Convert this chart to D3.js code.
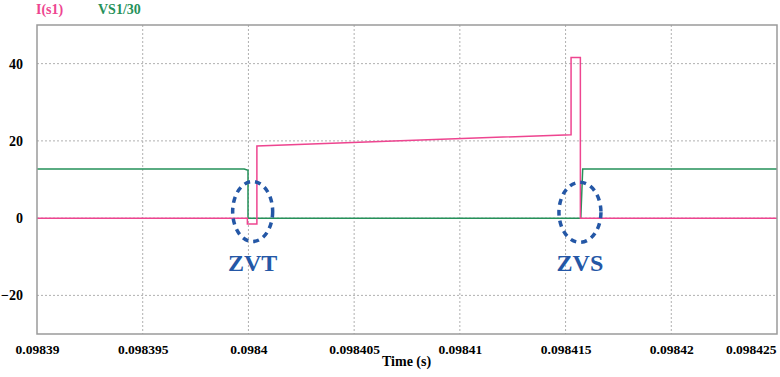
<!DOCTYPE html>
<html>
<head>
<meta charset="utf-8">
<script src="https://cdn.jsdelivr.net/npm/d3@7"></script>
<style>
  html, body { margin: 0; padding: 0; background: #fff; }
  svg { display: block; }
  text { font-family: "Liberation Serif", "Times New Roman", serif; font-weight: bold; }
</style>
</head>
<body>
<svg id="chart" width="780" height="377"></svg>
<script>
// Switch current I(s1) over time (s)
const currentTime = [0.09839, 0.09839995, 0.09839995, 0.0984004, 0.0984004, 0.09841526, 0.09841526, 0.0984157, 0.0984157, 0.098425];
const currentValue = [0, 0, -1.5, -1.5, 18.7, 21.6, 41.6, 41.6, 0, 0];

// Switch voltage scaled down by 30 (VS1/30)
const voltageTime = [0.09839, 0.0983998, 0.09839998, 0.09839998, 0.09841572, 0.09841581, 0.098425];
const voltageValue = [12.7, 12.7, 12.4, 0, 0, 12.7, 12.7];

// Axis ticks
const xTicks = [0.09839, 0.098395, 0.0984, 0.098405, 0.09841, 0.098415, 0.09842, 0.098425];
const xTickLabels = ["0.09839", "0.098395", "0.0984", "0.098405", "0.09841", "0.098415", "0.09842", "0.098425"];
const yTicks = [-20, 0, 20, 40];

// Soft-switching annotations: [label, centre time, centre value]
const markers = [["ZVT", 0.0984002, 1.7], ["ZVS", 0.09841568, 1.5]];

const seriesNames = ["I(s1)", "VS1/30"];
const pink = "#ee4590", green = "#25915a", blue = "#2457a6";

const svg = d3.select("#chart");
const plot = { left: 37, right: 777, top: 25, bottom: 334 };

const x = d3.scaleLinear().domain([0.09839, 0.098425]).range([plot.left, plot.right]);
const y = d3.scaleLinear().domain([-30, 50]).range([plot.bottom, plot.top]);

// Dotted grid
const grid = svg.append("g");
grid.selectAll("line.vx").data(xTicks.slice(1, -1)).join("line")
  .attr("x1", d => x(d)).attr("x2", d => x(d))
  .attr("y1", plot.top).attr("y2", plot.bottom)
  .attr("stroke", "#b0b0b0").attr("stroke-width", 1).attr("stroke-dasharray", "2,2");
grid.selectAll("line.hy").data(yTicks).join("line")
  .attr("x1", plot.left).attr("x2", plot.right)
  .attr("y1", d => y(d)).attr("y2", d => y(d))
  .attr("stroke", "#b0b0b0").attr("stroke-width", 1).attr("stroke-dasharray", "2,2");

// X axis labels (last one kept inside the frame)
const xAxis = d3.axisBottom(x).tickValues(xTicks).tickSize(0)
  .tickFormat((d, i) => xTickLabels[i]);
const xg = svg.append("g").attr("transform", `translate(0,${plot.bottom})`).call(xAxis);
xg.select(".domain").remove();
xg.selectAll("text").attr("dy", 0).attr("y", 20).attr("font-size", 13.5)
  .attr("font-family", "Liberation Serif").attr("font-weight", "bold").attr("fill", "#000")
  .each(function (d, i) {
    if (i === xTicks.length - 1) d3.select(this).attr("text-anchor", "end").attr("x", -1);
  });

// Y axis labels
const yAxis = d3.axisLeft(y).tickValues(yTicks).tickSize(0);
const yg = svg.append("g").attr("transform", `translate(${plot.left},0)`).call(yAxis);
yg.select(".domain").remove();
yg.selectAll("text").attr("x", -14).attr("font-size", 14)
  .attr("font-family", "Liberation Serif").attr("font-weight", "bold").attr("fill", "#000");

svg.append("text").attr("x", 382).attr("y", 366).attr("text-anchor", "start")
  .attr("font-size", 14).text("Time (s)");

// Traces
const line = d3.line().x(d => x(d[0])).y(d => y(d[1]));
svg.append("path").datum(d3.zip(voltageTime, voltageValue))
  .attr("d", line).attr("fill", "none").attr("stroke", green).attr("stroke-width", 1.5);
svg.append("path").datum(d3.zip(currentTime, currentValue))
  .attr("d", line).attr("fill", "none").attr("stroke", pink).attr("stroke-width", 1.5);

// Frame
svg.append("rect").attr("x", plot.left).attr("y", plot.top)
  .attr("width", plot.right - plot.left).attr("height", plot.bottom - plot.top)
  .attr("fill", "none").attr("stroke", "#9a9a9a").attr("stroke-width", 1.5);

// Legend
const legendX = [36, 98];
svg.selectAll("text.legend").data(seriesNames).join("text")
  .attr("class", "legend")
  .attr("x", (d, i) => legendX[i]).attr("y", 14)
  .attr("font-size", 14).attr("fill", (d, i) => i === 0 ? pink : green)
  .text(d => d);

// Annotations
const ann = svg.append("g");
markers.forEach(([label, t, v], i) => {
  const rx = i === 0 ? 20 : 21;
  ann.append("ellipse").attr("cx", x(t)).attr("cy", y(v)).attr("rx", rx).attr("ry", 30)
    .attr("fill", "none").attr("stroke", blue).attr("stroke-width", 3.5)
    .attr("stroke-dasharray", "6,5");
  ann.append("text").attr("x", x(t)).attr("y", 271).attr("text-anchor", "middle")
    .attr("font-size", 24).attr("fill", blue).text(label);
});
</script>
</body>
</html>
